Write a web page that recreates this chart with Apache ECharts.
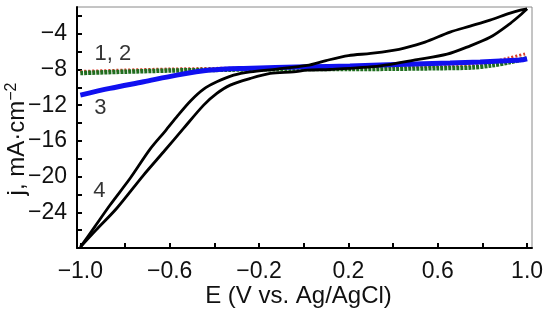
<!DOCTYPE html>
<html>
<head>
<meta charset="utf-8">
<script src="https://cdn.jsdelivr.net/npm/echarts@6/dist/echarts.min.js"></script>
<style>
html,body{margin:0;padding:0;background:#fff;}
#c{width:550px;height:322px;}
</style>
</head>
<body>
<div id="c"></div>
<script>
// ---- data (E in V, j in mA/cm2) ----
var curve1E = [-1.0, -0.80, -0.60, -0.40, -0.20, 0.0, 0.20, 0.40, 0.60, 0.75, 0.84, 0.92, 1.0];
var curve1J = [-8.22, -8.07, -7.95, -7.88, -7.82, -7.78, -7.76, -7.72, -7.64, -7.50, -7.20, -6.70, -6.20];

var curve2E = [-1.0, -0.80, -0.60, -0.40, -0.20, 0.0, 0.20, 0.40, 0.60, 0.75, 0.84, 0.92, 1.0];
var curve2J = [-8.40, -8.25, -8.12, -8.05, -7.98, -7.95, -7.95, -7.92, -7.86, -7.78, -7.55, -7.20, -6.75];

var curve3E = [-1.0, -0.868, -0.717, -0.568, -0.42, -0.269, 0.015, 0.207, 0.342, 0.655, 0.79, 0.88, 0.969, 1.0];
var curve3J = [-10.87, -10.12, -9.38, -8.63, -8.07, -7.88, -7.70, -7.62, -7.51, -7.28, -7.17, -7.06, -6.95, -6.80];

// curve 4: cyclic voltammogram, upper branch (scan from -1.0 to 1.0)
var curve4UpE = [-1.0, -0.935, -0.867, -0.777, -0.687, -0.620, -0.565, -0.508, -0.448, -0.389, -0.314, -0.239, -0.12, 0.015, 0.10, 0.20, 0.30, 0.40, 0.45, 0.543, 0.655, 0.745, 0.834, 0.924, 0.97, 1.0];
var curve4UpJ = [-27.9, -25.6, -23.18, -20.19, -16.9, -14.9, -13.2, -11.55, -10.2, -9.38, -8.63, -8.26, -7.95, -7.55, -7.0, -6.45, -6.2, -5.85, -5.6, -4.93, -3.81, -3.14, -2.47, -1.68, -1.35, -1.2];
// curve 4: lower branch (return scan from 1.0 to -1.0)
var curve4DownE = [1.0, 0.97, 0.924, 0.834, 0.731, 0.642, 0.507, 0.342, 0.118, 0.015, -0.045, -0.150, -0.239, -0.329, -0.389, -0.448, -0.538, -0.627, -0.717, -0.837, -0.93, -1.0];
var curve4DownJ = [-1.2, -1.9, -2.85, -4.4, -5.49, -6.28, -6.9, -7.6, -8.0, -8.07, -8.26, -8.44, -9.0, -9.75, -10.68, -11.99, -14.6, -17.22, -19.83, -23.55, -26.0, -27.9];

// curve labels
var labelTexts = ['1, 2', '3', '4'];
var labelE = [-0.854, -0.91, -0.915];
var labelJ = [-6.28, -12.27, -21.56];

// axis ticks / labels
var xTickValues = [-1.0, -0.8, -0.6, -0.4, -0.2, 0.0, 0.2, 0.4, 0.6, 0.8, 1.0];
var xLabelValues = [-1.0, -0.6, -0.2, 0.2, 0.6, 1.0];
var yTickValues = [-28, -26, -24, -22, -20, -18, -16, -14, -12, -10, -8, -6, -4, -2];
var yLabelValues = [-24, -20, -16, -12, -8, -4];

function pairs(a, b) { return a.map(function (v, i) { return [v, b[i]]; }); }
function minus(s) { return String(s).replace('-', '\u2212'); }

var chart = echarts.init(document.getElementById('c'), null, {renderer: 'canvas'});
var FONT = '"Liberation Sans", Arial, sans-serif';

chart.setOption({
  animation: false,
  backgroundColor: '#fff',
  grid: {left: 77, right: 18, top: 7, bottom: 74, containLabel: false, outerBoundsMode: 'none',
    show: true, borderColor: '#8a8a8a', borderWidth: 1},
  graphic: [{
    type: 'text', x: 17, y: 139, rotation: Math.PI / 2, silent: true,
    style: {
      text: '{a|j, mA\u00b7cm}{b|\u22122}', align: 'center', verticalAlign: 'middle',
      fill: '#111', font: '24px ' + FONT,
      rich: {a: {fontFamily: FONT, fontSize: 24, fill: '#111', color: '#111', lineHeight: 26},
             b: {fontFamily: FONT, fontSize: 16, fill: '#111', color: '#111', verticalAlign: 'top', lineHeight: 26, padding: [0, 0, 9, 0]}}
    }
  }],
  xAxis: {
    type: 'value', min: -1.015, max: 1.022,
    name: 'E (V vs. Ag/AgCl)', nameLocation: 'middle', nameGap: 36, nameMoveOverlap: false,
    nameTextStyle: {fontFamily: FONT, fontSize: 24, color: '#111', padding: [0, 12, 0, 0]},
    axisLine: {show: true, onZero: false, lineStyle: {color: '#000', width: 2}},
    axisTick: {show: true, inside: true, length: 5, lineStyle: {color: '#000', width: 2}, customValues: xTickValues},
    axisLabel: {margin: 12, fontFamily: FONT, fontSize: 23, color: '#111', customValues: xLabelValues,
      formatter: function (v) { return minus(v.toFixed(1)); }},
    splitLine: {show: false}
  },
  yAxis: {
    type: 'value', min: -28, max: -1,
    axisLine: {show: true, onZero: false, lineStyle: {color: '#000', width: 2}},
    axisTick: {show: true, inside: true, length: 5, lineStyle: {color: '#000', width: 2}, customValues: yTickValues},
    axisLabel: {margin: 10, fontFamily: FONT, fontSize: 23, color: '#111', customValues: yLabelValues,
      formatter: function (v) { return minus(v); }},
    splitLine: {show: false}
  },
  series: [
    {type: 'line', name: '4a', data: pairs(curve4UpE, curve4UpJ), showSymbol: false, smooth: 0.3,
      lineStyle: {color: '#000', width: 2.8}, z: 5},
    {type: 'line', name: '4b', data: pairs(curve4DownE, curve4DownJ), showSymbol: false, smooth: 0.3,
      lineStyle: {color: '#000', width: 2.8}, z: 5},
    {type: 'line', name: '1', data: pairs(curve1E, curve1J), showSymbol: false, smooth: 0.3,
      lineStyle: {color: '#d83a2a', width: 3, type: [2, 2]}, z: 2},
    {type: 'line', name: '2', data: pairs(curve2E, curve2J), showSymbol: false, smooth: 0.3,
      lineStyle: {color: '#1f6e1f', width: 4.5, type: [3, 1]}, z: 3},
    {type: 'line', name: '3', data: pairs(curve3E, curve3J), showSymbol: false, smooth: 0.3,
      lineStyle: {color: '#1010f0', width: 5}, z: 4},
    {type: 'scatter', name: 'labels', symbolSize: 1, silent: true, z: 10,
      itemStyle: {color: 'rgba(0,0,0,0)'},
      data: labelTexts.map(function (t, i) { return {name: t, value: [labelE[i], labelJ[i]]}; }),
      label: {show: true, position: 'inside', align: 'center', verticalAlign: 'middle',
        formatter: function (p) { return p.name; },
        fontFamily: FONT, fontSize: 22, color: '#000'}}
  ]
});
</script>
</body>
</html>
